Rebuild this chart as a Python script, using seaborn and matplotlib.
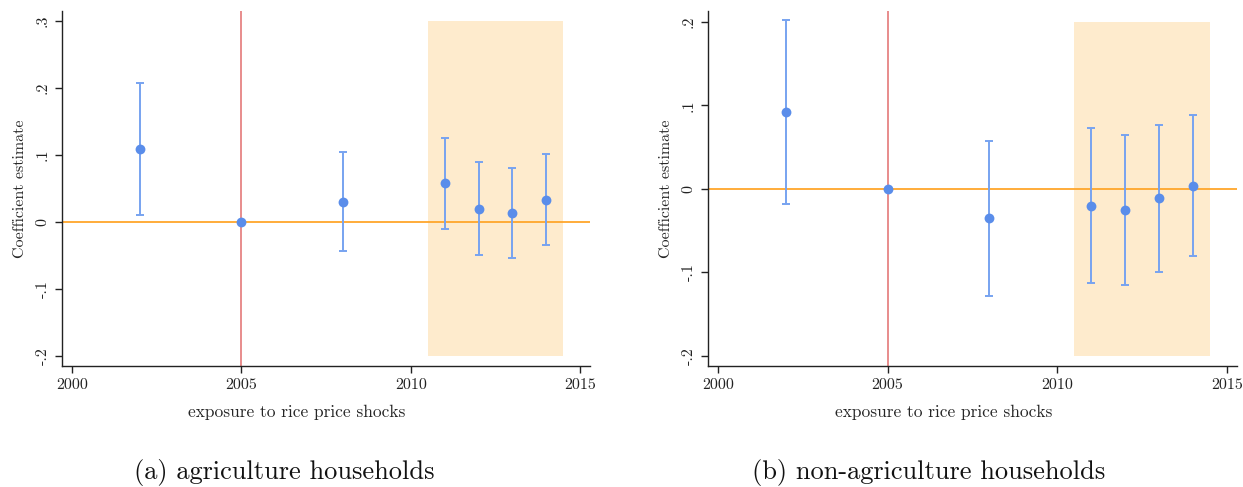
import matplotlib
matplotlib.use("Agg")
import matplotlib.pyplot as plt
import seaborn as sns
import pandas as pd

sns.set_theme(style="white")
plt.rcParams['font.family'] = ['cmr10', 'DejaVu Serif']
plt.rcParams['axes.formatter.use_mathtext'] = True

years = [2002, 2005, 2008, 2011, 2012, 2013, 2014]

agri_coef = [0.109, 0.0, 0.030, 0.058, 0.020, 0.013, 0.033]
agri_lo = [0.011, 0.0, -0.043, -0.010, -0.049, -0.054, -0.035]
agri_hi = [0.207, 0.0, 0.104, 0.126, 0.090, 0.081, 0.102]

nonagri_coef = [0.092, 0.0, -0.035, -0.020, -0.025, -0.011, 0.004]
nonagri_lo = [-0.018, 0.0, -0.128, -0.113, -0.115, -0.099, -0.080]
nonagri_hi = [0.202, 0.0, 0.057, 0.073, 0.065, 0.077, 0.088]

x_ticks = [2000, 2005, 2010, 2015]
x_ticklabels = ["2000", "2005", "2010", "2015"]
agri_yticks = [-0.2, -0.1, 0.0, 0.1, 0.2, 0.3]
agri_yticklabels = ["-.2", "-.1", "0", ".1", ".2", ".3"]
nonagri_yticks = [-0.2, -0.1, 0.0, 0.1, 0.2]
nonagri_yticklabels = ["-.2", "-.1", "0", ".1", ".2"]

captions = ["(a) agriculture households", "(b) non-agriculture households"]
xlabel = "exposure to rice price shocks"
ylabel = "Coefficient estimate"

shade_x = (2010.5, 2014.5)
ref_year = 2005

W, H = 1243, 487
fig = plt.figure(figsize=(W / 100, H / 100), dpi=100)

def make_ax(x0, x1, y0, y1):
    return fig.add_axes([x0 / W, 1 - y1 / H, (x1 - x0) / W, (y1 - y0) / H])

ax1 = make_ax(62, 590, 11, 366)
ax2 = make_ax(708, 1237, 11, 366)

point_col = "#5a8dea"
line_col = "#77a3f0"

panels = [
    (ax1, agri_coef, agri_lo, agri_hi, agri_yticks, agri_yticklabels, (-0.2, 0.3), (-0.215, 0.315), captions[0], 284),
    (ax2, nonagri_coef, nonagri_lo, nonagri_hi, nonagri_yticks, nonagri_yticklabels, (-0.2, 0.2), (-0.212, 0.213), captions[1], 929),
]

for ax, coef, lo, hi, yt, ytl, shade_y, ylim, cap, cap_x in panels:
    df = pd.DataFrame({"year": years, "coef": coef, "lo": lo, "hi": hi})
    ax.fill_between(list(shade_x), shade_y[0], shade_y[1], color="#feebcd", lw=0, zorder=0)
    ax.axvline(ref_year, color="#e88c8c", lw=1.4, zorder=1)
    ax.axhline(0, color="#ffa62b", lw=1.3, zorder=1)
    ci = df[df["hi"] != df["lo"]]
    ax.errorbar(ci["year"], ci["coef"],
                yerr=[ci["coef"] - ci["lo"], ci["hi"] - ci["coef"]],
                fmt="none", ecolor=line_col, elinewidth=1.4, capsize=3.2, capthick=1.4, zorder=2)
    sns.scatterplot(data=df, x="year", y="coef", ax=ax, color=point_col, s=50,
                    edgecolor=point_col, linewidth=0, zorder=3)
    ax.set_xlim(1999.71, 2015.29)
    ax.set_ylim(*ylim)
    ax.set_xticks(x_ticks)
    ax.set_xticklabels(x_ticklabels, fontsize=11.5)
    ax.set_yticks(yt)
    ax.set_yticklabels(ytl, fontsize=11.5, rotation=90, va="center")
    ax.set_xlabel(xlabel, fontsize=12.5, labelpad=8)
    ax.xaxis.set_label_coords(0.445, -0.11)
    ax.set_ylabel(ylabel, fontsize=11.5, labelpad=6)
    for s in ["top", "right"]:
        ax.spines[s].set_visible(False)
    for s in ["left", "bottom"]:
        ax.spines[s].set_color("#222222")
        ax.spines[s].set_linewidth(1.0)
    ax.tick_params(axis="both", direction="out", length=5, width=1.0, color="#222222",
                   bottom=True, left=True, pad=4, labelcolor="#222222")
    fig.text(cap_x / W, 1 - 473 / H, cap, ha="center", va="center",
             fontsize=19, color="#111111")

fig.savefig("out.png", dpi=100, facecolor="white")
